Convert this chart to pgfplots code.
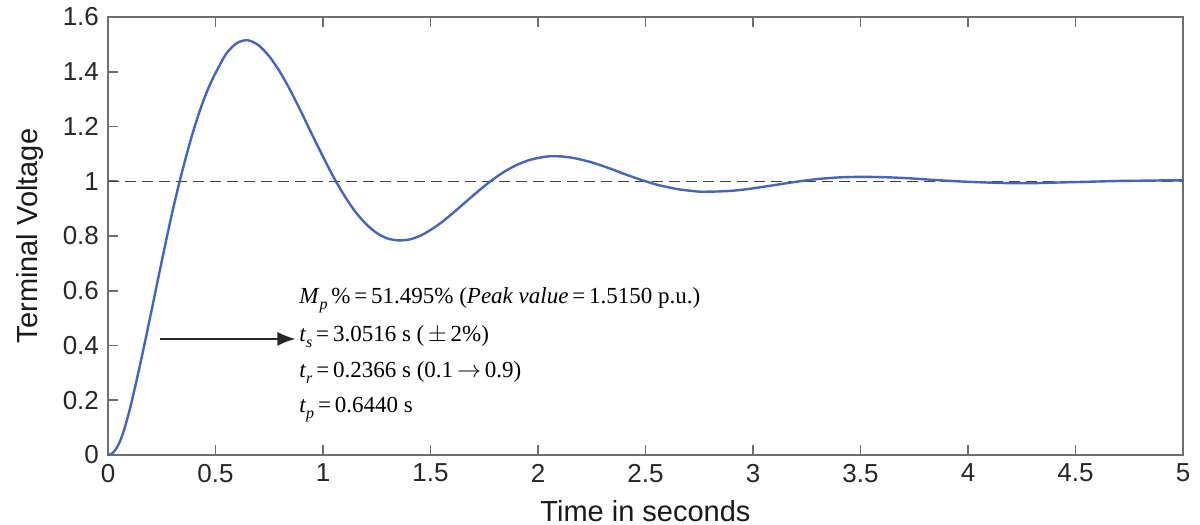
\documentclass[border=0pt]{standalone}
\usepackage{pgfplots}
\pgfplotsset{compat=1.18}
\usepackage{fontspec}
\setmainfont{Liberation Sans}
\newfontfamily\serif{Liberation Serif}
\usetikzlibrary{arrows.meta}
\definecolor{curve}{RGB}{68,100,196}
\definecolor{axgray}{RGB}{110,110,110}
\begin{document}
\begin{tikzpicture}
\path[use as bounding box] (-54pt,-35pt) rectangle (546pt,227.5pt);
\begin{axis}[
  scale only axis,
  width=537.5pt, height=219pt,
  xmin=0, xmax=5, ymin=0, ymax=1.6,
  xtick={0,0.5,...,5}, ytick={0,0.2,...,1.6},
  xticklabels={0,0.5,1,1.5,2,2.5,3,3.5,4,4.5,5},
  yticklabels={0,0.2,0.4,0.6,0.8,1,1.2,1.4,1.6},
  xtick pos=both, ytick pos=left,
  tick align=inside,
  major tick length=5pt,
  axis line style={axgray, line width=0.8pt},
  every tick/.style={axgray, line width=0.8pt},
  tick label style={font=\fontsize{13}{15}\selectfont, text=black!85},
  xticklabel style={yshift=-1pt},
  yticklabel style={xshift=-1pt},
  xlabel={Time in seconds},
  ylabel={Terminal Voltage},
  label style={font=\fontsize{14.5}{17}\selectfont, text=black!90},
  xlabel style={yshift=-2pt},
  ylabel style={yshift=3pt},
  clip=false,
]
\addplot[black!75, line width=0.7pt, dash pattern=on 5.5pt off 3pt] coordinates {(0,1) (5,1)};
\addplot[curve, line width=1.2pt, smooth] coordinates {
(0,0) (0.02,0.006) (0.04,0.025) (0.06,0.058) (0.08,0.105) (0.10,0.163)
(0.12,0.228) (0.14,0.297) (0.16,0.369) (0.18,0.443) (0.20,0.518)
(0.22,0.594) (0.24,0.670) (0.26,0.745) (0.28,0.819) (0.30,0.890)
(0.32,0.957) (0.34,1.020) (0.36,1.081) (0.38,1.138) (0.40,1.192)
(0.42,1.241) (0.44,1.286) (0.46,1.327) (0.48,1.363) (0.50,1.395)
(0.55,1.466) (0.60,1.505) (0.65,1.515) (0.70,1.497) (0.75,1.456)
(0.80,1.399) (0.85,1.329)
(0.90,1.251) (0.95,1.169) (1.00,1.090) (1.05,1.014) (1.10,0.947)
(1.15,0.889) (1.20,0.844) (1.25,0.811) (1.30,0.791) (1.35,0.784)
(1.40,0.787) (1.45,0.800) (1.50,0.822) (1.55,0.849) (1.60,0.881)
(1.65,0.915) (1.70,0.949) (1.75,0.982) (1.80,1.012) (1.85,1.038)
(1.90,1.059) (1.95,1.075) (2.00,1.085) (2.05,1.091) (2.10,1.091)
(2.15,1.087) (2.20,1.079) (2.25,1.069) (2.30,1.056) (2.35,1.042)
(2.40,1.027) (2.45,1.013) (2.50,1.000) (2.55,0.988) (2.60,0.979)
(2.65,0.971) (2.70,0.966) (2.75,0.962) (2.80,0.962) (2.85,0.963)
(2.90,0.965) (2.95,0.969) (3.00,0.974) (3.10,0.986) (3.20,0.998)
(3.30,1.008) (3.40,1.014) (3.50,1.016) (3.60,1.015) (3.70,1.012)
(3.80,1.007) (3.90,1.002) (4.00,0.998) (4.10,0.995) (4.20,0.993)
(4.30,0.993) (4.40,0.995) (4.50,0.997) (4.60,0.999) (4.70,1.001)
(4.80,1.002) (4.90,1.003) (5.00,1.003)
};
\draw[black!85, line width=0.9pt, -{Latex[length=9pt,width=7pt]}] (axis cs:0.242,0.424) -- (axis cs:0.872,0.424);
\begin{scope}[every node/.style={anchor=base west, inner sep=0pt, font=\serif\fontsize{11.5}{13}\selectfont}]
\node at (axis cs:0.888,0.554) {\textit{M}\raisebox{-0.55ex}{\fontsize{8}{9}\selectfont\textit{p}}\,\%\,=\,51.495\% (\textit{Peak value}\,=\,1.5150 p.u.)};
\node at (axis cs:0.888,0.414) {\textit{t}\raisebox{-0.55ex}{\fontsize{8}{9}\selectfont\textit{s}}\,=\,3.0516 s (\,$\pm$\,2\%)};
\node at (axis cs:0.888,0.284) {\textit{t}\raisebox{-0.55ex}{\fontsize{8}{9}\selectfont\textit{r}}\,=\,0.2366 s (0.1\,$\rightarrow$\,0.9)};
\node at (axis cs:0.888,0.155) {\textit{t}\raisebox{-0.55ex}{\fontsize{8}{9}\selectfont\textit{p}}\,=\,0.6440 s};
\end{scope}
\end{axis}
\end{tikzpicture}
\end{document}
